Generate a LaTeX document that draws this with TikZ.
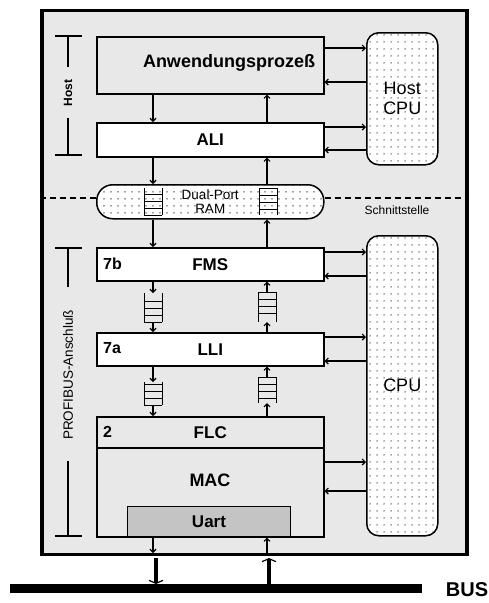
\documentclass[tikz,border=0pt]{standalone}
\usepackage{fontspec}
\setmainfont{Liberation Sans}
\usetikzlibrary{arrows.meta,patterns.meta,calc}
\definecolor{bggray}{HTML}{E8E8E8}
\definecolor{uartgray}{HTML}{C4C4C4}
\begin{document}
\begin{tikzpicture}[x=1pt,y=-1pt,
  box/.style={draw, line width=1.5pt, minimum width=227pt, anchor=north west, inner sep=0pt,
              font=\fontsize{17}{19}\selectfont\bfseries},
  dotfill/.style={preaction={fill=white}, pattern={Dots[distance=6.5pt,radius=0.75pt]},
              pattern color=black!85},
  cpubox/.style={draw, line width=1.5pt, rounded corners=12pt, anchor=north west, minimum width=71pt,
              inner sep=0pt, dotfill, font=\fontsize{18}{20}\selectfont, align=center},
  arr/.style={line width=1.2pt, -{Straight Barb[length=3pt,width=6pt]}},
  bigarr/.style={line width=3.5pt, -{Straight Barb[length=3pt,width=14pt,line width=1.2pt]}},
  brk/.style={line width=1.3pt},
  qline/.style={line width=1pt},
  lbl/.style={font=\fontsize{16}{18}\selectfont\bfseries, anchor=west, inner sep=0pt},
  qh/.store in=\qh, qh=28,
  qdown/.pic={
    \draw[qline] (-9,0) -- (-9,\qh) (9,0) -- (9,\qh);
    \foreach \k in {0,7,14,21} \draw[qline] (-9,\qh-\k) -- (9,\qh-\k);
    \coordinate (-top) at (0,0); \coordinate (-bot) at (0,\qh);
  },
  qup/.pic={
    \draw[qline] (-9,0) -- (-9,\qh) (9,0) -- (9,\qh);
    \foreach \k in {0,7,14,21} \draw[qline] (-9,\k) -- (9,\k);
    \coordinate (-top) at (0,0); \coordinate (-bot) at (0,\qh);
  }
]
\useasboundingbox (0,0) rectangle (489,603);

% outer frame
\node[draw, line width=3.5pt, fill=bggray, minimum width=425pt, minimum height=544pt,
      anchor=north west, inner sep=0pt] (frame) at (40,8.5) {};

% columns and rows
\coordinate (cl) at (153,0);
\coordinate (cr) at (267,0);
\coordinate (tl) at (156,0);
\coordinate (tr) at (269,0);
\coordinate (dl) at (0,198);

% host part
\node[box, fill=bggray, minimum height=57pt] (anw) at (96,36) {};
\node[font=\fontsize{18}{20}\selectfont\bfseries] (anwt) at (229,63) {Anwendungsprozeß};
\node[box, fill=white, minimum height=34pt] (ali) at (96,122) {ALI};
\node[cpubox, minimum height=132pt] (hcpu) at (366,32) {Host\\CPU};

% dual port ram
\node[draw, line width=1.5pt, rounded corners=16pt, anchor=north west, minimum width=227pt,
      minimum height=34pt, inner sep=0pt, dotfill,
      font=\fontsize{13.5}{14}\selectfont, align=center] (dpr) at (96,184) {Dual-Port\\RAM};
\pic[qh=27] (dq1) at (153,188) {qdown};
\pic[qh=27] (dq2) at (268,188) {qup};

% interface line
\draw[line width=1.5pt, dash pattern=on 6pt off 4pt] (frame.west |- dl) -- (dpr.west |- dl);
\draw[line width=1.5pt, dash pattern=on 6pt off 4pt] (dpr.east |- dl) -- (frame.east |- dl);
\node[font=\fontsize{12}{14}\selectfont] (schn) at (397,210) {Schnittstelle};

% PROFIBUS part
\node[box, fill=white, minimum height=33pt] (fms) at (96,247) {FMS};
\node[lbl] (l7b) at (103,263.5) {7b};
\node[box, fill=white, minimum height=33pt] (lli) at (96,332) {LLI};
\node[lbl] (l7a) at (103,348.5) {7a};
\node[box, fill=bggray, minimum height=31pt] (flc) at (96,416) {FLC};
\node[lbl] (l2) at (103,431.5) {2};
\node[box, fill=bggray, minimum height=89pt] (mac) at (96,447) {};
\node[font=\fontsize{18}{20}\selectfont\bfseries] (mact) at (210,480) {MAC};
\node[draw, line width=1pt, fill=uartgray, anchor=north west, minimum width=163pt, minimum height=30pt,
      inner sep=0pt, font=\fontsize{17}{19}\selectfont\bfseries] (uart) at (127,506) {Uart};
\node[cpubox, minimum height=300pt] (cpu) at (366,235) {CPU};

% queues between FMS / LLI / FLC
\pic[qh=29] (q1) at (153,293) {qdown};
\pic[qh=30] (q2) at (267,292) {qup};
\pic[qh=23] (q3) at (153,382) {qdown};
\pic[qh=26] (q4) at (267,377) {qup};

% vertical arrows
\draw[arr] (anw.south -| cl) -- (ali.north -| cl);
\draw[arr] (ali.north -| cr) -- (anw.south -| cr);
\draw[arr] (ali.south -| cl) -- (dpr.north -| cl);
\draw[arr] (dpr.north -| cr) -- (ali.south -| cr);
\draw[arr] (dpr.south -| cl) -- (fms.north -| cl);
\draw[arr] (fms.north -| cr) -- (dpr.south -| cr);
\draw[arr] (fms.south -| cl) -- (q1-top);
\draw[arr] (q1-bot) -- (lli.north -| cl);
\draw[arr] (lli.north -| cr) -- (q2-bot);
\draw[arr] (q2-top) -- (fms.south -| cr);
\draw[arr] (lli.south -| cl) -- (q3-top);
\draw[arr] (q3-bot) -- (flc.north -| cl);
\draw[arr] (flc.north -| cr) -- (q4-bot);
\draw[arr] (q4-top) -- (lli.south -| cr);

% horizontal arrows to CPUs
\coordinate (r1) at (0,48);  \coordinate (r2) at (0,82);
\coordinate (r3) at (0,127); \coordinate (r4) at (0,150);
\coordinate (r5) at (0,252); \coordinate (r6) at (0,276);
\coordinate (r7) at (0,337); \coordinate (r8) at (0,361);
\coordinate (r9) at (0,462); \coordinate (r10) at (0,491);
\draw[arr] (anw.east |- r1) -- (hcpu.west |- r1);
\draw[arr] (hcpu.west |- r2) -- (anw.east |- r2);
\draw[arr] (ali.east |- r3) -- (hcpu.west |- r3);
\draw[arr] (hcpu.west |- r4) -- (ali.east |- r4);
\draw[arr] (fms.east |- r5) -- (cpu.west |- r5);
\draw[arr] (cpu.west |- r6) -- (fms.east |- r6);
\draw[arr] (lli.east |- r7) -- (cpu.west |- r7);
\draw[arr] (cpu.west |- r8) -- (lli.east |- r8);
\draw[arr] (mac.east |- r9) -- (cpu.west |- r9);
\draw[arr] (cpu.west |- r10) -- (mac.east |- r10);

% brackets
\draw[brk] (55,36) -- (82,36) (68,36) -- (68,67) (68,118) -- (68,155) (55,155) -- (82,155);
\node[rotate=90, font=\fontsize{12}{14}\selectfont\bfseries] (hostl) at (68,93) {Host};
\draw[brk] (55,248) -- (82,248) (68,248) -- (68,287) (68,461) -- (68,536) (55,536) -- (82,536);
\node[rotate=90, font=\fontsize{13.5}{15}\selectfont] (profl) at (68,375) {PROFIBUS-Anschluß};

% bus
\node[fill=black, minimum width=412pt, minimum height=9pt, inner sep=0pt, anchor=north west] (bus) at (10,584) {};
\node[font=\fontsize{20}{22}\selectfont\bfseries] (busl) at (467,590) {BUS};
\draw[arr] (mac.south -| cl) -- ([yshift=3pt]frame.south -| cl);
\draw[arr] ([yshift=2pt]frame.south -| cr) -- (mac.south -| cr);
\draw[bigarr] ([yshift=-2pt]frame.south -| tl) -- (bus.north -| tl);
\draw[bigarr] (bus.north -| tr) -- ([yshift=-2pt]frame.south -| tr);
\end{tikzpicture}
\end{document}
